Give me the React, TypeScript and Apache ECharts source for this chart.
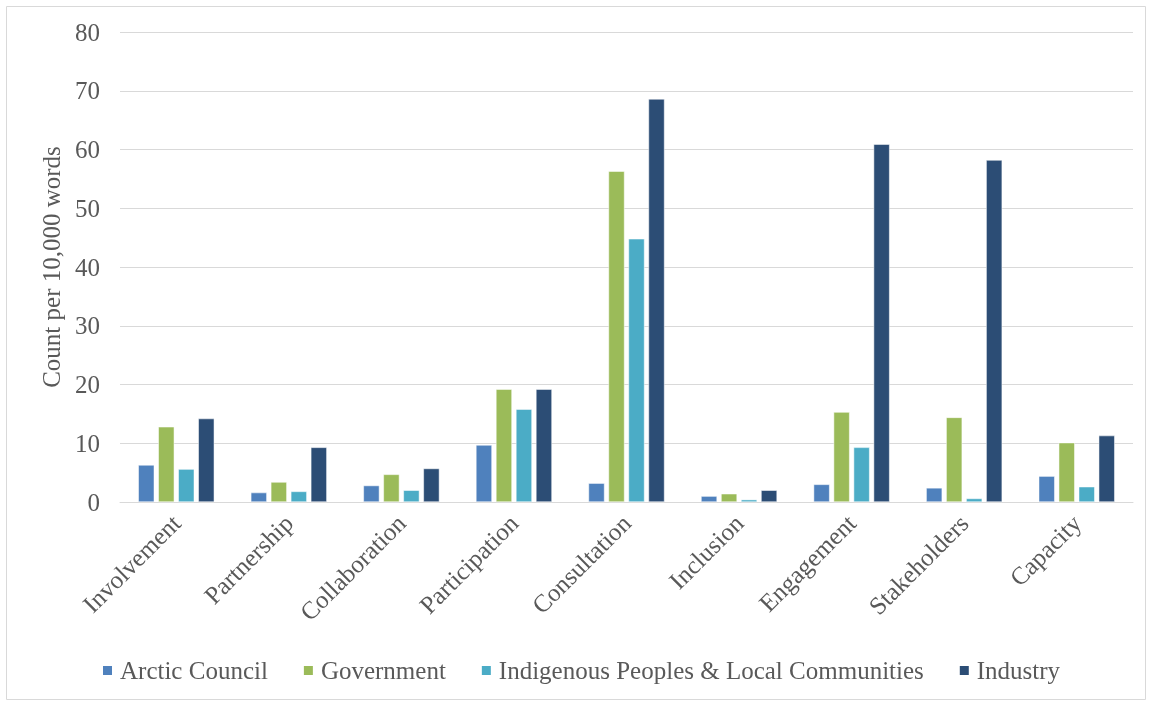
import React, { useEffect, useRef } from "react";
import * as echarts from "echarts";

const categories = ["Involvement", "Partnership", "Collaboration", "Participation", "Consultation", "Inclusion", "Engagement", "Stakeholders", "Capacity"];
const seriesNames = ["Arctic Council", "Government", "Indigenous Peoples & Local Communities", "Industry"];
const arcticCouncil = [6.3, 1.6, 2.8, 9.7, 3.2, 1.0, 3.0, 2.4, 4.4];
const government = [12.8, 3.4, 4.7, 19.2, 56.3, 1.4, 15.3, 14.4, 10.1];
const indigenous = [5.6, 1.8, 2.0, 15.8, 44.8, 0.4, 9.3, 0.6, 2.6];
const industry = [14.2, 9.3, 5.7, 19.2, 68.6, 2.0, 60.9, 58.2, 11.3];
const colors = ["#4F81BD", "#9BBB59", "#4BACC6", "#2C4D75"];

export default function App() {
  const ref = useRef<HTMLDivElement>(null);
  useEffect(() => {
    if (!ref.current) return;
    const chart = echarts.init(ref.current, undefined, { renderer: "svg" });
    const font = "'Liberation Serif', 'Times New Roman', serif";
    const dataSets = [arcticCouncil, government, indigenous, industry];
    chart.setOption({
      animation: false,
      textStyle: { fontFamily: font },
      graphic: [
        {
          type: "rect",
          shape: { x: 6.5, y: 6.5, width: 1139, height: 693 },
          style: { fill: "none", stroke: "#d9d9d9", lineWidth: 1 },
        },
      ],
      grid: { left: 120, right: 19, top: 32, bottom: 203 },
      legend: {
        top: 653,
        left: 96,
        itemWidth: 11,
        itemHeight: 11,
        itemGap: 34,
        icon: "rect",
        textStyle: { fontFamily: font, fontSize: 25, color: "#595959", padding: [0, 0, 0, 2] },
        data: seriesNames,
      },
      xAxis: {
        type: "category",
        data: categories,
        axisLine: { lineStyle: { color: "#d9d9d9" } },
        axisTick: { show: false },
        axisLabel: { rotate: 45, fontFamily: font, fontSize: 25, color: "#595959", margin: 17 },
      },
      yAxis: {
        type: "value",
        min: 0,
        max: 80,
        interval: 10,
        name: "Count per 10,000 words",
        nameLocation: "middle",
        nameGap: 56,
        nameTextStyle: { fontFamily: font, fontSize: 25, color: "#595959" },
        axisLabel: { fontFamily: font, fontSize: 25, color: "#595959", margin: 20 },
        splitLine: { lineStyle: { color: "#d9d9d9" } },
        axisLine: { show: false },
        axisTick: { show: false },
      },
      series: seriesNames.map((name, i) => ({
        name,
        type: "bar",
        data: dataSets[i],
        barWidth: 16,
        barGap: "25%",
        itemStyle: { color: colors[i], borderColor: "#ffffff", borderWidth: 0.5 },
      })),
    });
    return () => chart.dispose();
  }, []);
  return <div ref={ref} style={{ position: "fixed", left: 0, top: 0, width: 1152, height: 705 }} />;
}
